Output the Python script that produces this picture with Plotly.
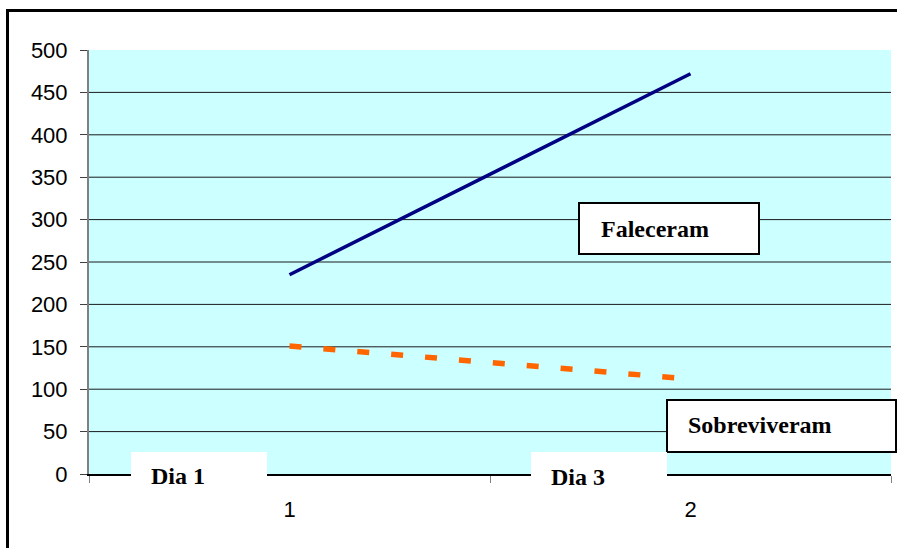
import plotly.graph_objects as go

categories = ["1", "2"]
faleceram = [235, 472]
sobreviveram = [151, 112]
y_ticks = [0, 50, 100, 150, 200, 250, 300, 350, 400, 450, 500]

fig = go.Figure()
fig.add_trace(go.Scatter(x=categories, y=faleceram, mode="lines",
                         line=dict(color="#000080", width=3.5), name="Faleceram"))
fig.add_trace(go.Scatter(x=categories, y=sobreviveram, mode="lines",
                         line=dict(color="#FF6600", width=5.5, dash="12px,22px"),
                         name="Sobreviveram"))

W, H = 897, 548
L, R, T, B = 89, 6, 50, 74
pw, ph = W - L - R, H - T - B

def px(x):
    return (x - L) / pw

def py(y):
    return (H - B - y) / ph

shapes = []
for v in y_ticks[1:-1]:
    shapes.append(dict(type="line", xref="paper", yref="y", x0=0, x1=1, y0=v, y1=v,
                       line=dict(color="#1a1a1a", width=1), layer="below"))
shapes.append(dict(type="rect", xref="paper", yref="paper",
                   x0=px(7.5), x1=px(905), y0=py(560), y1=py(10.5),
                   line=dict(color="black", width=3), fillcolor="rgba(0,0,0,0)"))
boxes = [
    (579, 759, 203, 254, True),
    (667, 896, 400, 452, True),
    (131, 267, 452, 500, False),
    (531, 667, 452, 500, False),
]
for x0, x1, y0, y1, border in boxes:
    shapes.append(dict(type="rect", xref="paper", yref="paper",
                       x0=px(x0), x1=px(x1), y0=py(y1), y1=py(y0),
                       fillcolor="white",
                       line=dict(color="black" if border else "white", width=2 if border else 0),
                       layer="above"))

labels = [("Faleceram", 599, 229), ("Sobreviveram", 686, 425), ("Dia 1", 149, 476), ("Dia 3", 549, 477)]
annotations = []
for text, x, y in labels:
    annotations.append(dict(text="<b>%s</b>" % text, xref="paper", yref="paper",
                            x=px(x), y=py(y), xanchor="left", yanchor="middle",
                            showarrow=False,
                            font=dict(family="Liberation Serif, Times New Roman, serif",
                                      size=24, color="black")))

fig.update_layout(
    width=W, height=H,
    margin=dict(l=L, r=R, t=T, b=B),
    paper_bgcolor="white",
    plot_bgcolor="#CCFFFF",
    showlegend=False,
    shapes=shapes,
    annotations=annotations,
    font=dict(family="Liberation Sans, Arial, sans-serif", size=22, color="black"),
)
fig.update_xaxes(type="category", range=[-0.5, 1.5], tickson="boundaries", ticks="outside", ticklen=7,
                 tickcolor="#808080", showline=True, linecolor="black", linewidth=1.5,
                 showgrid=False, zeroline=False, ticklabelstandoff=15,
                 tickfont=dict(size=22))
fig.update_yaxes(range=[0, 500], tickvals=y_ticks, ticks="outside", ticklen=7,
                 tickcolor="#404040", showline=True, linecolor="#808080", linewidth=2,
                 showgrid=False, zeroline=False, ticklabelstandoff=8,
                 tickfont=dict(size=22))

fig.write_html("out.html", config={"displayModeBar": False},
               post_script="document.body.style.margin='0';document.body.style.overflow='hidden';")
